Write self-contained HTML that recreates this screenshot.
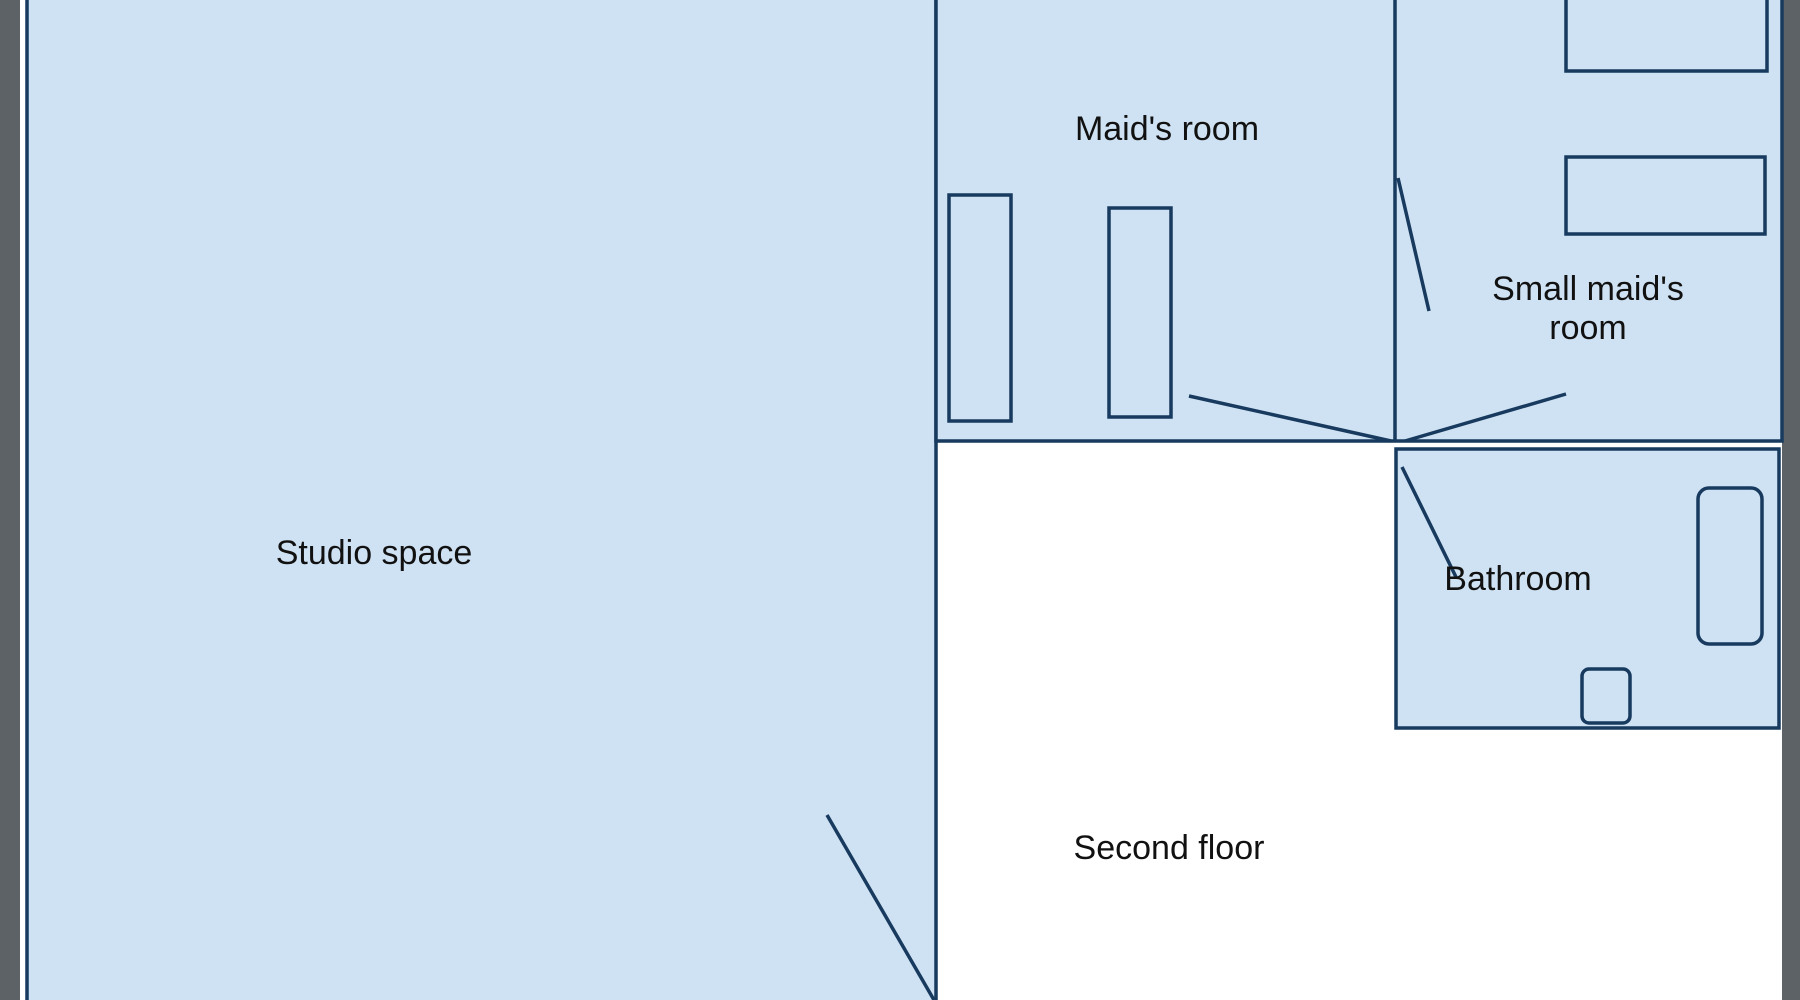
<!DOCTYPE html>
<html><head><style>
html,body{margin:0;padding:0;background:#fff;}
svg{display:block}
text{font-family:"Liberation Sans",sans-serif;font-size:34px;fill:#111;text-anchor:middle}
</style></head><body>
<svg width="1800" height="1000" viewBox="0 0 1800 1000" xmlns="http://www.w3.org/2000/svg">
<rect x="0" y="0" width="1800" height="1000" fill="#fff"/>
<rect x="0" y="0" width="20" height="1000" fill="#5d6267"/>
<rect x="1782" y="0" width="18" height="1000" fill="#5d6267"/>
<g stroke="#173a5e" stroke-width="3.5" fill="#cfe2f3">
<rect x="27" y="-5" width="909" height="1010"/>
<rect x="936" y="-5" width="846" height="446"/>
<line x1="1395" y1="0" x2="1395" y2="441"/>
<rect x="1396" y="449" width="383" height="279"/>
<rect x="1566" y="-5" width="201" height="76"/>
<rect x="1566" y="157" width="199" height="77"/>
<rect x="949" y="195" width="62" height="226"/>
<rect x="1109" y="208" width="62" height="209"/>
<rect x="1698" y="488" width="64" height="156" rx="11"/>
<rect x="1582" y="669" width="48" height="54" rx="7"/>
<line x1="1189" y1="396" x2="1391" y2="441"/>
<line x1="1405" y1="441" x2="1566" y2="394"/>
<line x1="1398" y1="178" x2="1429" y2="311"/>
<line x1="1402" y1="467" x2="1456" y2="577"/>
<line x1="827" y1="815" x2="934" y2="1000"/>
</g>
<text x="1167" y="140">Maid's room</text>
<text x="374" y="564">Studio space</text>
<text x="1588" y="300">Small maid's</text>
<text x="1588" y="339">room</text>
<text x="1518" y="590">Bathroom</text>
<text x="1169" y="859">Second floor</text>
</svg>
</body></html>
